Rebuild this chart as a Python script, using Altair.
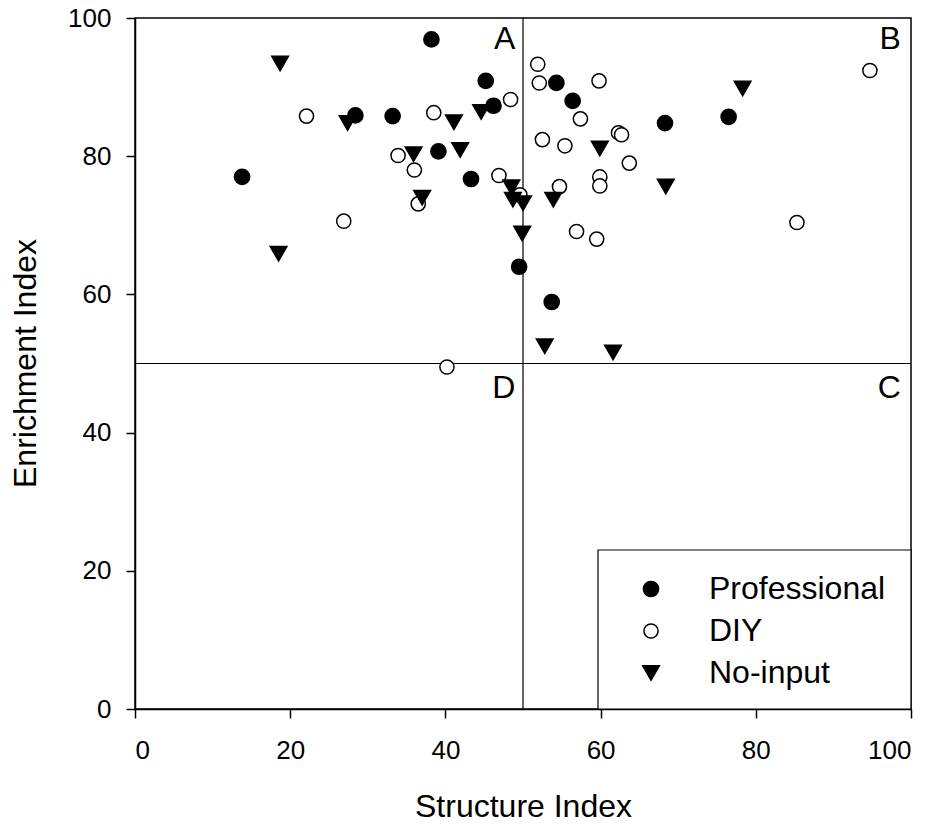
import altair as alt
import pandas as pd

groups = ["Professional", "DIY", "No-input"]

prof_x = [13.8, 28.4, 33.2, 38.2, 39.1, 43.3, 45.2, 46.2, 49.5, 53.7, 54.3, 56.4, 68.3, 76.5]
prof_y = [77.0, 85.9, 85.8, 96.9, 80.7, 76.7, 90.9, 87.3, 64.0, 58.9, 90.6, 88.0, 84.8, 85.7]

diy_x = [22.1, 26.9, 33.9, 36.0, 36.5, 38.5, 40.2, 46.9, 48.4, 49.6, 51.9, 52.1, 52.5,
         54.7, 55.4, 56.9, 57.4, 59.5, 59.8, 59.9, 59.9, 62.3, 62.7, 63.7, 85.3, 94.7]
diy_y = [85.8, 70.6, 80.1, 78.0, 73.1, 86.3, 49.5, 77.2, 88.2, 74.4, 93.3, 90.6, 82.4,
         75.6, 81.5, 69.1, 85.4, 68.0, 90.9, 77.0, 75.7, 83.4, 83.1, 79.0, 70.4, 92.4]

noinput_x = [18.7, 18.5, 27.4, 35.9, 37.0, 41.1, 41.9, 44.6, 48.5, 48.7, 50.0, 49.9,
             52.8, 53.9, 59.9, 61.6, 68.4, 78.3]
noinput_y = [93.4, 65.9, 84.8, 80.3, 74.0, 84.9, 80.9, 86.4, 75.5, 73.7, 73.2, 68.8,
             52.5, 73.7, 81.1, 51.6, 75.6, 89.8]

quad_labels = ["A", "B", "C", "D"]
quad_x = [49.0, 98.7, 98.7, 49.0]
quad_y = [95.5, 95.5, 45.0, 45.0]

divider_x = [50]
divider_y = [50]
tick_values = [0, 20, 40, 60, 80, 100]

rows = []
for g, xs, ys in [("Professional", prof_x, prof_y), ("DIY", diy_x, diy_y),
                  ("No-input", noinput_x, noinput_y)]:
    rows += [{"group": g, "si": x, "ei": y} for x, y in zip(xs, ys)]
pts = pd.DataFrame(rows)

quad_df = pd.DataFrame({"label": quad_labels, "si": quad_x, "ei": quad_y})
vline_df = pd.DataFrame({"si": divider_x})
hline_df = pd.DataFrame({"ei": divider_y})

FONT = "Liberation Sans"

x_scale = alt.Scale(domain=[0, 100], nice=False)
y_scale = alt.Scale(domain=[0, 100], nice=False)

x_axis = alt.Axis(values=tick_values, title="Structure Index", tickSize=9,
                  labelPadding=19, titleY=107, titleBaseline="alphabetic")
y_axis = alt.Axis(values=tick_values, title="Enrichment Index", tickSize=9,
                  labelPadding=15, titleX=-100, titleY=345, titleAngle=270,
                  titleBaseline="alphabetic")

X = alt.X("si:Q", scale=x_scale, axis=x_axis)
Y = alt.Y("ei:Q", scale=y_scale, axis=y_axis)

legend = alt.Legend(orient="none", legendX=500, legendY=555, title=None,
                    labelFontSize=32, labelFont=FONT, labelColor="black",
                    labelOffset=42, rowPadding=10, labelLimit=0,
                    symbolStrokeWidth=1.5)

points = alt.Chart(pts).mark_point(
    strokeWidth=1.5, opacity=1, fillOpacity=1, strokeOpacity=1
).encode(
    x=X,
    y=Y,
    shape=alt.Shape("group:N", scale=alt.Scale(domain=groups, range=["circle", "circle", "triangle-down"]), legend=legend),
    fill=alt.Fill("group:N", scale=alt.Scale(domain=groups, range=["black", "white", "black"]), legend=legend),
    stroke=alt.Stroke("group:N", scale=alt.Scale(domain=groups, range=["black", "black", "black"]), legend=legend),
    size=alt.Size("group:N", scale=alt.Scale(type="ordinal", domain=groups, range=[231, 200, 280]), legend=legend),
)

vline = alt.Chart(vline_df).mark_rule(color="black", strokeWidth=1.2).encode(x=X)
hline = alt.Chart(hline_df).mark_rule(color="black", strokeWidth=1.2).encode(y=Y)

quad_text = alt.Chart(quad_df).mark_text(
    align="right", baseline="alphabetic", font=FONT, fontSize=32, color="black"
).encode(x=X, y=Y, text="label:N")

legend_box = alt.Chart(pd.DataFrame({"k": [0]})).mark_rect(
    fill="white", stroke="black", strokeWidth=1.2
).encode(x=alt.value(463), x2=alt.value(776), y=alt.value(532), y2=alt.value(691))

chart = alt.layer(legend_box, vline, hline, quad_text, points).properties(
    width=776,
    height=691,
    autosize=alt.AutoSizeParams(type="none"),
    padding={"left": 127, "top": 10, "right": 19, "bottom": 110},
).configure_view(
    stroke="black", strokeWidth=1.5
).configure_axis(
    grid=False, domainColor="black", domainWidth=1.5, tickColor="black",
    tickWidth=1.5, labelColor="black", titleColor="black", labelFont=FONT,
    titleFont=FONT, labelFontSize=26, titleFontSize=32, titleFontWeight="normal",
)

chart.save("out.html", embed_options={"renderer": "svg", "actions": False})
